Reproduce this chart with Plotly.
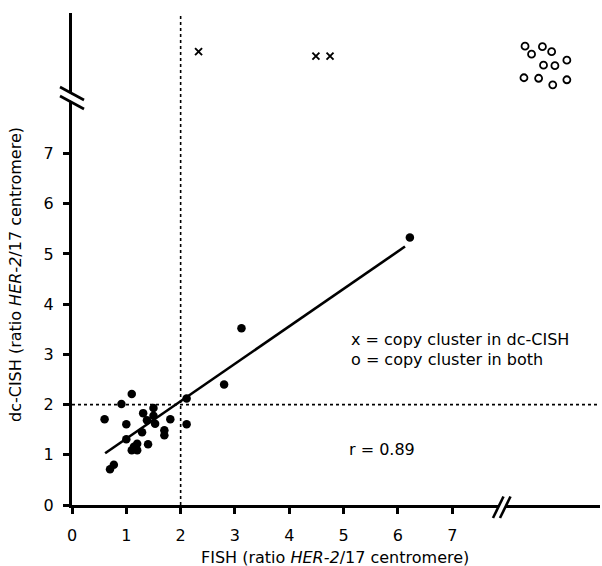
import plotly.graph_objects as go

# ---- data ----
fish = [0.60, 0.70, 0.77, 0.91, 1.00, 1.00, 1.10, 1.14, 1.10, 1.20, 1.20, 1.29, 1.31,
        1.40, 1.38, 1.50, 1.50, 1.53, 1.70, 1.70, 1.81, 2.11, 2.11, 2.80, 3.12, 6.22]
cish = [1.71, 0.71, 0.80, 2.01, 1.61, 1.31, 2.21, 1.16, 1.09, 1.09, 1.22, 1.45, 1.83,
        1.21, 1.69, 1.93, 1.78, 1.62, 1.49, 1.39, 1.71, 1.61, 2.12, 2.40, 3.52, 5.33]

# copy clusters in dc-CISH only (plotted above the y-axis break)
cl_dc_x = [2.33, 4.49, 4.75]
cl_dc_y = [9.03, 8.94, 8.94]

# copy clusters in both (plotted beyond both breaks)
cl_both_x = [8.34, 8.46, 8.66, 8.83, 8.68, 8.89, 9.11, 8.32, 8.59, 8.85, 9.11]
cl_both_y = [9.14, 8.98, 9.13, 9.03, 8.76, 8.75, 8.86, 8.51, 8.50, 8.37, 8.47]

# regression line
fit_slope = 0.746
fit_intercept = 0.575
fit_x = [0.61, 6.13]
fit_y = [fit_intercept + fit_slope * v for v in fit_x]

cutoff = 2
tick_vals = [0, 1, 2, 3, 4, 5, 6, 7]
tick_text = ["0", "1", "2", "3", "4", "5", "6", "7"]

x_max = 9.72
y_max = 9.80

# ---- figure ----
W, H = 602, 566
ML, MR, MT, MB = 72, 2, 13, 61
PW, PH = W - ML - MR, H - MT - MB
FONT = "DejaVu Sans, Arial, Helvetica, sans-serif"
FS = 16


def px_to_paper(px, py):
    return (px - ML) / PW, (H - MB - py) / PH


fig = go.Figure()

fig.add_trace(go.Scatter(x=fit_x, y=fit_y, mode="lines",
                         line=dict(color="black", width=2.6), hoverinfo="skip"))
fig.add_trace(go.Scatter(x=fish, y=cish, mode="markers",
                         marker=dict(color="black", size=8.5, line=dict(width=0))))
fig.add_trace(go.Scatter(x=cl_dc_x, y=cl_dc_y, mode="markers",
                         marker=dict(symbol="x-thin-open", size=7, color="black",
                                     line=dict(color="black", width=1.9))))
fig.add_trace(go.Scatter(x=cl_both_x, y=cl_both_y, mode="markers",
                         marker=dict(symbol="circle-open", size=7, color="black",
                                     line=dict(color="black", width=1.8))))

shapes = []
# dotted cut-off lines
shapes.append(dict(type="line", xref="x", yref="y", x0=cutoff, x1=cutoff, y0=0, y1=y_max,
                   line=dict(color="black", width=1.6, dash="dot"), layer="below"))
shapes.append(dict(type="line", xref="x", yref="y", x0=0, x1=x_max, y0=cutoff, y1=cutoff,
                   line=dict(color="black", width=1.6, dash="dot"), layer="below"))


def brk(p0, p1, q0, q1, mid0, mid1):
    out = []
    a, b = px_to_paper(*mid0)
    c, d = px_to_paper(*mid1)
    out.append(dict(type="line", xref="paper", yref="paper", x0=a, y0=b, x1=c, y1=d,
                    line=dict(color="white", width=6)))
    for s0, s1 in ((p0, p1), (q0, q1)):
        a, b = px_to_paper(*s0)
        c, d = px_to_paper(*s1)
        out.append(dict(type="line", xref="paper", yref="paper", x0=a, y0=b, x1=c, y1=d,
                        line=dict(color="black", width=2.6)))
    return out


# y-axis break
shapes += brk((60, 87), (84, 100), (60, 96), (84, 109), (57, 90), (87, 106))
# x-axis break
shapes += brk((493, 518), (503.5, 496.5), (500, 518), (510.5, 496.5), (495, 521), (508, 493))

annotations = [
    dict(xref="x", yref="y", x=5.10, y=3.29, text="x = copy cluster in dc-CISH",
         showarrow=False, xanchor="left", yanchor="middle", font=dict(size=FS)),
    dict(xref="x", yref="y", x=5.10, y=2.89, text="o = copy cluster in both",
         showarrow=False, xanchor="left", yanchor="middle", font=dict(size=FS)),
    dict(xref="x", yref="y", x=5.06, y=1.10, text="r = 0.89",
         showarrow=False, xanchor="left", yanchor="middle", font=dict(size=FS)),
]
tx, ty = px_to_paper(335, 557)
annotations.append(dict(xref="paper", yref="paper", x=tx, y=ty,
                        text="FISH (ratio <i>HER-2</i>/17 centromere)", showarrow=False,
                        xanchor="center", yanchor="middle", font=dict(size=FS)))
tx, ty = px_to_paper(15, 275)
annotations.append(dict(xref="paper", yref="paper", x=tx, y=ty, textangle=-90,
                        text="dc-CISH (ratio <i>HER-2</i>/17 centromere)", showarrow=False,
                        xanchor="center", yanchor="middle", font=dict(size=FS)))

fig.update_layout(
    width=W, height=H,
    margin=dict(l=ML, r=MR, t=MT, b=MB, pad=0, autoexpand=False),
    paper_bgcolor="white", plot_bgcolor="white",
    showlegend=False,
    font=dict(family=FONT, color="black", size=FS),
    shapes=shapes,
    annotations=annotations,
    xaxis=dict(range=[0, x_max], showgrid=False, zeroline=False,
               showline=True, linecolor="black", linewidth=3,
               ticks="outside", ticklen=6, tickwidth=2.6, tickcolor="black",
               tickvals=tick_vals, ticktext=tick_text, ticklabelstandoff=8,
               tickfont=dict(size=FS)),
    yaxis=dict(range=[0, y_max], showgrid=False, zeroline=False,
               showline=True, linecolor="black", linewidth=3,
               ticks="outside", ticklen=6, tickwidth=2.6, tickcolor="black",
               tickvals=tick_vals, ticktext=tick_text, ticklabelstandoff=6,
               tickfont=dict(size=FS)),
)

fig.write_html("out.html",
               config={"displayModeBar": False},
               post_script="document.body.style.margin='0px';"
                           "document.body.style.overflow='hidden';")
